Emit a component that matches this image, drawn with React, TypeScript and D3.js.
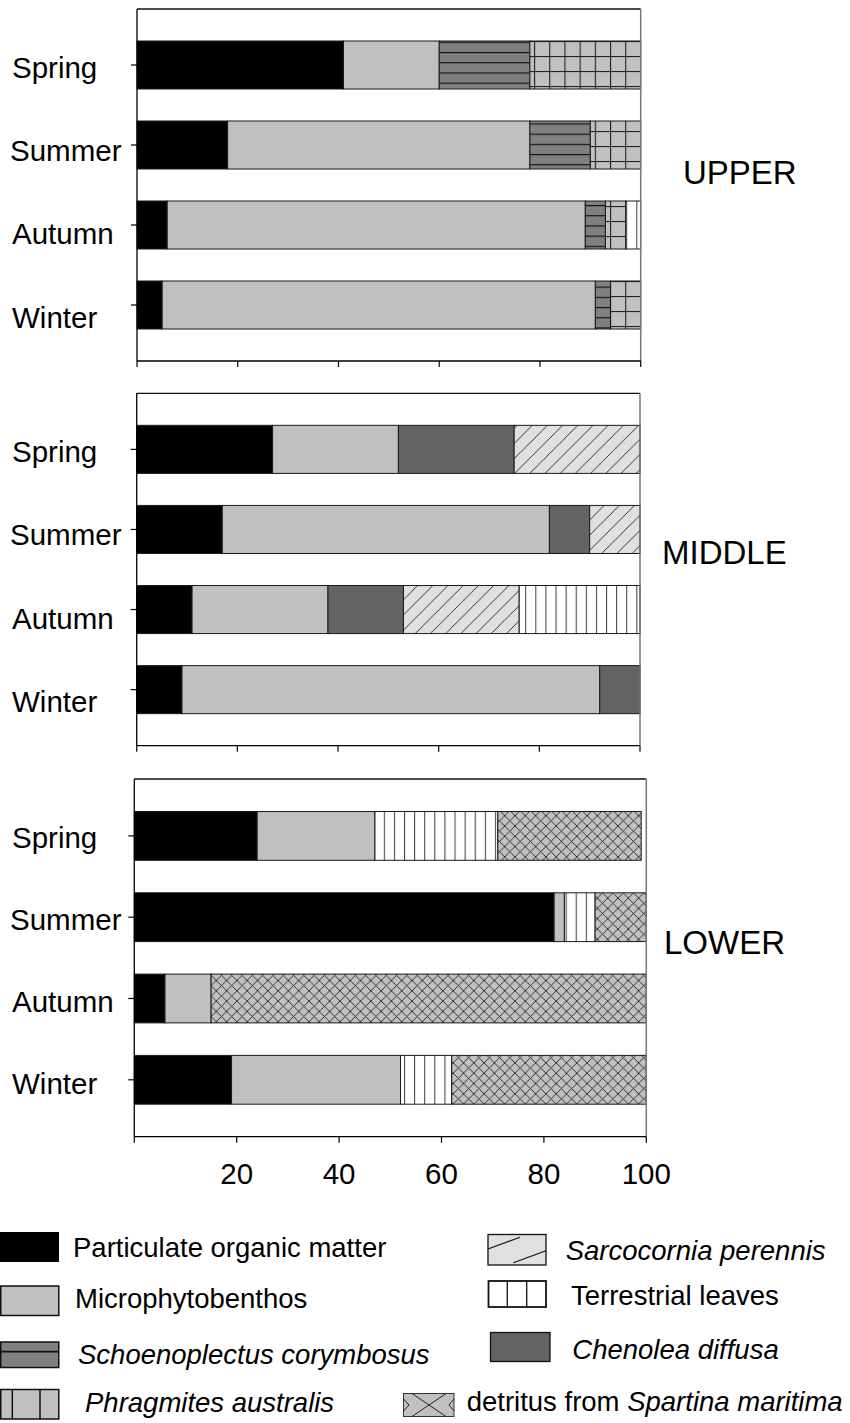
import React from "react";
import * as d3 from "d3";

// ---------- data ----------
const seasons = ["Spring", "Summer", "Autumn", "Winter"];
const sourceKeys = ["pom", "mpb", "schoen", "phrag", "chen", "sarco", "terr", "spart"];

// UPPER
const upperPOM = [41, 18, 6, 5];
const upperMPB = [19, 60, 83, 86];
const upperSchoen = [18, 12, 4, 3];
const upperPhrag = [22, 10, 4, 6];
const upperTerr = [0, 0, 3, 0];

// MIDDLE
const middlePOM = [27, 17, 11, 9];
const middleMPB = [25, 65, 27, 83];
const middleChen = [23, 8, 15, 8];
const middleSarco = [25, 10, 23, 0];
const middleTerr = [0, 0, 24, 0];

// LOWER
const lowerPOM = [24, 82, 6, 19];
const lowerMPB = [23, 2, 9, 33];
const lowerTerr = [24, 6, 0, 10];
const lowerSpart = [28, 10, 85, 38];

const panelNames = ["UPPER", "MIDDLE", "LOWER"];
const xTicks = [0, 20, 40, 60, 80, 100];
const xTickLabels = ["", "20", "40", "60", "80", "100"];

const legendLabels = {
  pom: "Particulate organic matter",
  mpb: "Microphytobenthos",
  schoen: "Schoenoplectus corymbosus",
  phrag: "Phragmites australis",
  sarco: "Sarcocornia perennis",
  terr: "Terrestrial leaves",
  chen: "Chenolea diffusa",
  spart: "Spartina maritima",
};

// ---------- build tables ----------
const zeros = [0, 0, 0, 0];
function table(src: Record<string, number[]>) {
  return seasons.map((s, i) => {
    const row: any = { season: s };
    sourceKeys.forEach((k) => (row[k] = (src[k] || zeros)[i]));
    return row;
  });
}
const panelData = [
  table({ pom: upperPOM, mpb: upperMPB, schoen: upperSchoen, phrag: upperPhrag, terr: upperTerr }),
  table({ pom: middlePOM, mpb: middleMPB, chen: middleChen, sarco: middleSarco, terr: middleTerr }),
  table({ pom: lowerPOM, mpb: lowerMPB, terr: lowerTerr, spart: lowerSpart }),
];

// ---------- layout ----------
const panels = [
  { x0: 137, x1: 640.7, top: 9, bottom: 361, labelX: 683, labelY: 184, showTickLabels: false, drift: 3.4 },
  { x0: 136.7, x1: 640, top: 393.3, bottom: 745.7, labelX: 662, labelY: 564, showTickLabels: false, drift: 3.4 },
  { x0: 134.3, x1: 646.3, top: 779, bottom: 1136.7, labelX: 664, labelY: 954, showTickLabels: true, drift: 0.6 },
];

const fills: Record<string, string> = {
  pom: "#000000",
  mpb: "#c0c0c0",
  schoen: "url(#pSchoen)",
  phrag: "url(#pPhrag)",
  chen: "#636363",
  sarco: "url(#pSarco)",
  terr: "url(#pTerr)",
  spart: "url(#pSpart)",
};

const FONT = "'Liberation Sans', Arial, Helvetica, sans-serif";

function Panel({ idx }: { idx: number }) {
  const p = panels[idx];
  const data = panelData[idx];
  const x = d3.scaleLinear().domain([0, 100]).range([p.x0, p.x1]);
  const y = d3
    .scaleBand<string>()
    .domain(seasons)
    .range([p.top, p.bottom])
    .paddingInner(0.4)
    .paddingOuter(0.4);
  const stack = d3.stack<any>().keys(sourceKeys);
  const series = stack(data);
  return (
    <g>
      {series.map((s) =>
        s.map((d, i) =>
          d[1] - d[0] > 0 ? (
            <rect
              key={s.key + i}
              x={x(d[0])}
              y={y(seasons[i])}
              width={x(d[1]) - x(d[0])}
              height={y.bandwidth()}
              fill={fills[s.key]}
              stroke="#1a1a1a"
              strokeWidth={1}
            />
          ) : null
        )
      )}
      {/* frame */}
      <line x1={p.x0} x2={p.x1} y1={p.top} y2={p.top} stroke="#111" strokeWidth={1.3} />
      <line x1={p.x1} x2={p.x1} y1={p.top} y2={p.bottom} stroke="#777" strokeWidth={1.5} />
      {/* left axis */}
      <line x1={p.x0} x2={p.x0} y1={p.top} y2={p.bottom} stroke="#000" strokeWidth={1.3} />
      {seasons.map((s, i) => (
        <g key={s}>
          <line
            x1={p.x0 - 6}
            x2={p.x0}
            y1={y(s)! + y.bandwidth() / 2}
            y2={y(s)! + y.bandwidth() / 2}
            stroke="#000"
            strokeWidth={1.2}
          />
          <text
            x={s === "Summer" ? 10 : 12}
            y={y(s)! + y.bandwidth() / 2 + 12.5 + i * p.drift}
            fontFamily={FONT}
            fontSize={29.5}
            fill="#000"
          >
            {s}
          </text>
        </g>
      ))}
      {/* bottom axis */}
      <line x1={p.x0} x2={p.x1} y1={p.bottom} y2={p.bottom} stroke="#000" strokeWidth={1.3} />
      {xTicks.map((t, i) => (
        <g key={t}>
          <line x1={x(t)} x2={x(t)} y1={p.bottom} y2={p.bottom + 6} stroke="#000" strokeWidth={1.2} />
          {p.showTickLabels && xTickLabels[i] ? (
            <text
              x={x(t)}
              y={p.bottom + 47}
              textAnchor="middle"
              fontFamily={FONT}
              fontSize={29.5}
              fill="#000"
            >
              {xTickLabels[i]}
            </text>
          ) : null}
        </g>
      ))}
      <text x={p.labelX} y={p.labelY} fontFamily={FONT} fontSize={33} fill="#000">
        {panelNames[idx]}
      </text>
    </g>
  );
}

function Legend() {
  const fs = 27.5;
  return (
    <g fontFamily={FONT} fontSize={fs} fill="#000">
      {/* POM */}
      <rect x={0} y={1232} width={59} height={30} fill="#000" />
      <text x={73} y={1257}>{legendLabels.pom}</text>
      {/* MPB */}
      <rect x={0.75} y={1286} width={58} height={29.5} fill="#c0c0c0" stroke="#111" strokeWidth={1.5} />
      <text x={75} y={1308}>{legendLabels.mpb}</text>
      {/* Schoenoplectus */}
      <rect x={0.75} y={1342} width={58} height={25.5} fill="#808080" stroke="#111" strokeWidth={1.5} />
      <line x1={0} x2={59} y1={1351.7} y2={1351.7} stroke="#111" strokeWidth={1.8} />
      <text x={78} y={1364} fontStyle="italic">{legendLabels.schoen}</text>
      {/* Phragmites */}
      <rect x={0.75} y={1389.5} width={58} height={29.5} fill="#c0c0c0" stroke="#111" strokeWidth={1.5} />
      <line x1={12.3} x2={12.3} y1={1389.5} y2={1419} stroke="#111" strokeWidth={1.5} />
      <line x1={40} x2={40} y1={1389.5} y2={1419} stroke="#111" strokeWidth={1.5} />
      <text x={85} y={1412.3} fontStyle="italic">{legendLabels.phrag}</text>
      {/* Sarcocornia */}
      <rect x={488} y={1234.5} width={58} height={30.5} fill="#e0e0e0" stroke="#111" strokeWidth={1.3} />
      <line x1={488} y1={1249} x2={520} y2={1237.3} stroke="#111" strokeWidth={1.2} />
      <line x1={513.3} y1={1262.7} x2={546} y2={1250.7} stroke="#111" strokeWidth={1.2} />
      <text x={565.7} y={1260} fontStyle="italic">{legendLabels.sarco}</text>
      {/* Terrestrial */}
      <rect x={488.5} y={1281} width={57.5} height={26} fill="#fff" stroke="#111" strokeWidth={1.8} />
      <line x1={507.3} x2={507.3} y1={1281} y2={1307} stroke="#111" strokeWidth={1.3} />
      <line x1={526.7} x2={526.7} y1={1281} y2={1307} stroke="#111" strokeWidth={1.3} />
      <text x={571} y={1305}>{legendLabels.terr}</text>
      {/* Chenolea */}
      <rect x={490.5} y={1332.5} width={59.5} height={29} fill="#636363" stroke="#111" strokeWidth={1.3} />
      <text x={572.3} y={1359.3} fontStyle="italic">{legendLabels.chen}</text>
      {/* Spartina */}
      <rect x={403.5} y={1393.5} width={50.5} height={23} fill="#c0c0c0" stroke="#333" strokeWidth={1} />
      <path
        d="M412,1393.5 L446,1416.5 M446,1393.5 L412,1416.5 M403.5,1399 L409,1405 L403.5,1411 M454,1399 L449,1405 L454,1411"
        stroke="#222"
        strokeWidth={1}
        fill="none"
      />
      <text x={466.7} y={1410.7}>
        detritus from <tspan fontStyle="italic">{legendLabels.spart}</tspan>
      </text>
    </g>
  );
}

export default function App() {
  return (
    <svg
      width={850}
      height={1423}
      viewBox="0 0 850 1423"
      style={{ position: "absolute", left: 0, top: 0, background: "#fff" }}
    >
      <defs>
        <pattern id="pSchoen" patternUnits="userSpaceOnUse" width={10} height={10.2} y={1}>
          <rect width={10} height={10.2} fill="#808080" />
          <line x1={0} x2={10} y1={0.5} y2={0.5} stroke="#111" strokeWidth={1.3} />
        </pattern>
        <pattern id="pPhrag" patternUnits="userSpaceOnUse" width={15.2} height={15} x={2} y={11}>
          <rect width={15.2} height={15} fill="#c0c0c0" />
          <line x1={0} x2={15.2} y1={0.5} y2={0.5} stroke="#222" strokeWidth={1.2} />
          <line x1={0.5} x2={0.5} y1={0} y2={15} stroke="#222" strokeWidth={1.2} />
        </pattern>
        <pattern id="pSarco" patternUnits="userSpaceOnUse" width={15.2} height={15.2}>
          <rect width={15.2} height={15.2} fill="#e0e0e0" />
          <path
            d="M0,15.2 L15.2,0 M-3.8,3.8 L3.8,-3.8 M11.4,19 L19,11.4"
            stroke="#222"
            strokeWidth={0.9}
          />
        </pattern>
        <pattern id="pTerr" patternUnits="userSpaceOnUse" width={10.1} height={10}>
          <rect width={10.1} height={10} fill="#fff" />
          <line x1={0.5} x2={0.5} y1={0} y2={10} stroke="#444" strokeWidth={1.1} />
        </pattern>
        <pattern id="pSpart" patternUnits="userSpaceOnUse" width={10.3} height={10.3} y={2}>
          <rect width={10.3} height={10.3} fill="#c0c0c0" />
          <path d="M0,0 L10.3,10.3 M10.3,0 L0,10.3" stroke="#222" strokeWidth={0.9} />
        </pattern>
      </defs>
      <rect width={850} height={1423} fill="#fff" />
      {panels.map((_, i) => (
        <Panel key={i} idx={i} />
      ))}
      <Legend />
    </svg>
  );
}
